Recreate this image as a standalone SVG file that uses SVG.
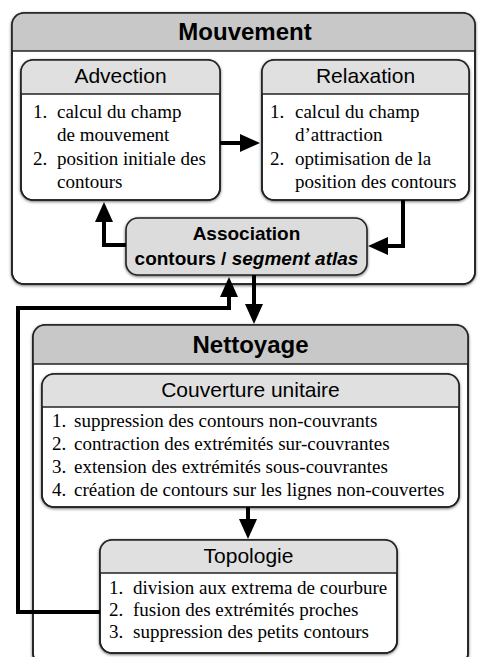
<svg xmlns="http://www.w3.org/2000/svg" width="478" height="657" viewBox="0 0 478 657">
<style>
.box{fill:#fff;stroke:#222;stroke-width:1.6;filter:url(#sh)}
.hd1{fill:#c8c8c8}
.hd2{fill:#e0e0e0}
.sep{stroke:#222;stroke-width:1.4}
.frame{fill:none;stroke:#222;stroke-width:1.6}
.t1{font-family:"Liberation Sans",Arial,sans-serif;font-weight:bold;font-size:24px;text-anchor:middle;fill:#000}
.t2{font-family:"Liberation Sans",Arial,sans-serif;font-size:21px;text-anchor:middle;fill:#000}
.t3{font-family:"Liberation Sans",Arial,sans-serif;font-weight:bold;font-size:19px;text-anchor:middle;fill:#000}
.it{font-family:"Liberation Serif","Times New Roman",serif;font-size:19px;fill:#000}
.con{fill:none;stroke:#000;stroke-width:4;marker-end:url(#ah)}
</style>
<defs>
<filter id="sh" x="-10%" y="-10%" width="120%" height="120%">
<feDropShadow dx="0" dy="1" stdDeviation="1.8" flood-color="#000" flood-opacity="0.6"/>
</filter>
<marker id="ah" markerUnits="userSpaceOnUse" markerWidth="20" markerHeight="18" viewBox="0 0 20 18" refX="0" refY="9" orient="auto">
<path d="M0,0 L20,9 L0,18 z" fill="#000"/>
</marker>
</defs>

<g id="mouvement">
<rect class="box" x="12" y="13" width="463" height="271" rx="12"/>
<path class="hd1" d="M12,51 V25 A12,12 0 0 1 24,13 H463 A12,12 0 0 1 475,25 V51 Z"/>
<line class="sep" x1="12" y1="51" x2="475" y2="51"/>
<rect class="frame" x="12" y="13" width="463" height="271" rx="12"/>
<text class="t1" x="245" y="40">Mouvement</text>
</g>

<g id="nettoyage">
<rect class="box" x="33" y="325" width="435" height="340" rx="12"/>
<path class="hd1" d="M33,364 V337 A12,12 0 0 1 45,325 H456 A12,12 0 0 1 468,337 V364 Z"/>
<line class="sep" x1="33" y1="364" x2="468" y2="364"/>
<rect class="frame" x="33" y="325" width="435" height="340" rx="12"/>
<text class="t1" x="250.5" y="353">Nettoyage</text>
</g>

<g id="advection">
<rect class="box" x="21" y="60" width="199" height="140" rx="12"/>
<path class="hd2" d="M21,94 V72 A12,12 0 0 1 33,60 H208 A12,12 0 0 1 220,72 V94 Z"/>
<line class="sep" x1="21" y1="94" x2="220" y2="94"/>
<rect class="frame" x="21" y="60" width="199" height="140" rx="12"/>
<text class="t2" x="120.5" y="83">Advection</text>
<text class="it" x="33" y="118">1.</text><text class="it" x="57" y="118">calcul du champ</text>
<text class="it" x="57" y="141">de mouvement</text>
<text class="it" x="33" y="165">2.</text><text class="it" x="57" y="165">position initiale des</text>
<text class="it" x="57" y="188">contours</text>
</g>

<g id="relaxation">
<rect class="box" x="262" y="60" width="207" height="140" rx="12"/>
<path class="hd2" d="M262,94 V72 A12,12 0 0 1 274,60 H457 A12,12 0 0 1 469,72 V94 Z"/>
<line class="sep" x1="262" y1="94" x2="469" y2="94"/>
<rect class="frame" x="262" y="60" width="207" height="140" rx="12"/>
<text class="t2" x="365.5" y="83">Relaxation</text>
<text class="it" x="270" y="118">1.</text><text class="it" x="295" y="118">calcul du champ</text>
<text class="it" x="295" y="141">d’attraction</text>
<text class="it" x="270" y="165">2.</text><text class="it" x="295" y="165">optimisation de la</text>
<text class="it" x="295" y="188">position des contours</text>
</g>

<g id="association">
<rect class="box" x="126" y="218" width="241" height="57" rx="12" style="fill:#dcdcdc"/>
<text class="t3" x="246.5" y="240">Association</text>
<text class="t3" x="246.5" y="265">contours / <tspan font-style="italic">segment atlas</tspan></text>
</g>

<g id="couverture">
<rect class="box" x="42" y="374" width="417" height="133" rx="12"/>
<path class="hd2" d="M42,407 V386 A12,12 0 0 1 54,374 H447 A12,12 0 0 1 459,386 V407 Z"/>
<line class="sep" x1="42" y1="407" x2="459" y2="407"/>
<rect class="frame" x="42" y="374" width="417" height="133" rx="12"/>
<text class="t2" x="250.5" y="397">Couverture unitaire</text>
<text class="it" x="52" y="427">1.</text><text class="it" x="74" y="427">suppression des contours non-couvrants</text>
<text class="it" x="52" y="450">2.</text><text class="it" x="74" y="450">contraction des extrémités sur-couvrantes</text>
<text class="it" x="52" y="473">3.</text><text class="it" x="74" y="473">extension des extrémités sous-couvrantes</text>
<text class="it" x="52" y="496">4.</text><text class="it" x="74" y="496">création de contours sur les lignes non-couvertes</text>
</g>

<g id="topologie">
<rect class="box" x="100" y="540" width="297" height="113" rx="12"/>
<path class="hd2" d="M100,573 V552 A12,12 0 0 1 112,540 H385 A12,12 0 0 1 397,552 V573 Z"/>
<line class="sep" x1="100" y1="573" x2="397" y2="573"/>
<rect class="frame" x="100" y="540" width="297" height="113" rx="12"/>
<text class="t2" x="248.5" y="563">Topologie</text>
<text class="it" x="109" y="594">1.</text><text class="it" x="133" y="594">division aux extrema de courbure</text>
<text class="it" x="109" y="616">2.</text><text class="it" x="133" y="616">fusion des extrémités proches</text>
<text class="it" x="109" y="638">3.</text><text class="it" x="133" y="638">suppression des petits contours</text>
</g>

<g id="connectors">
<path class="con" d="M220,143 H240"/>
<path class="con" d="M126,245 H104 V222"/>
<path class="con" d="M403,200 V246 H388"/>
<path class="con" d="M254,275 V304"/>
<path class="con" d="M100,612 H18 V308 H229 V297"/>
<path class="con" d="M248,507 V519"/>
</g>
</svg>
